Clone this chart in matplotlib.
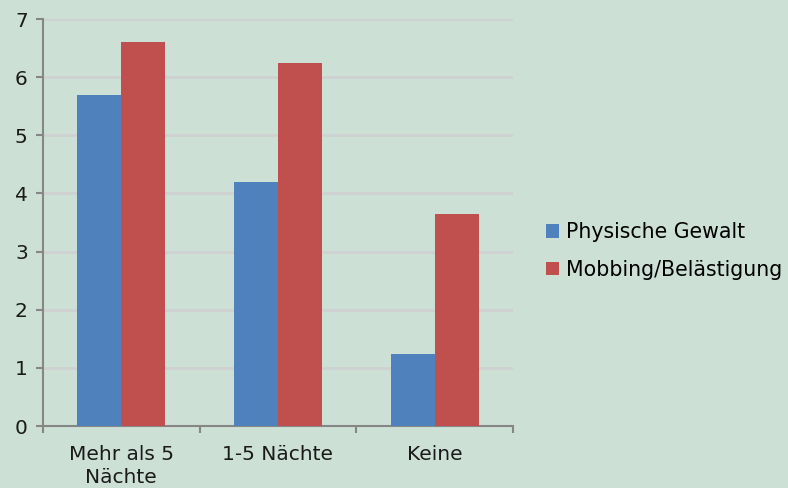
import numpy as np
import matplotlib.pyplot as plt

categories = ["Mehr als 5\nNächte", "1-5 Nächte", "Keine"]
physische_gewalt = [5.7, 4.2, 1.23]
mobbing = [6.6, 6.24, 3.65]
series_names = ["Physische Gewalt", "Mobbing/Belästigung"]

bg = "#cce0d6"
blue = "#4f81bd"
red = "#c0504d"

fig = plt.figure(figsize=(7.88, 4.88), dpi=100, facecolor=bg)
ax = fig.add_axes([43 / 788, 1 - 426 / 488, 470 / 788, 407 / 488])
ax.set_facecolor(bg)

x = np.arange(len(categories))
w = 0.28
ax.bar(x - w / 2, physische_gewalt, w, color=blue, label=series_names[0], zorder=3)
ax.bar(x + w / 2, mobbing, w, color=red, label=series_names[1], zorder=3)

ax.set_xlim(-0.5, len(categories) - 0.5)
ax.set_ylim(0, 7)
ax.set_yticks(range(0, 8))
ax.yaxis.grid(True, color="#cfd0d2", linewidth=1.8, zorder=0)

# boundary ticks on x, labels in the middle
ax.set_xticks(np.arange(-0.5, len(categories), 1.0))
ax.set_xticklabels([])
ax.set_xticks(x, minor=True)
ax.set_xticklabels(categories, minor=True, fontsize=14.5, color="#1a1a1a",
                   linespacing=1.25)
ax.tick_params(axis="x", which="minor", length=0, pad=14)
ax.tick_params(axis="x", which="major", length=5, width=1.5, color="#868686")
ax.tick_params(axis="y", length=5, width=1.5, color="#868686", labelsize=14.5,
               labelcolor="#1a1a1a", pad=6)

for s in ["top", "right"]:
    ax.spines[s].set_visible(False)
for s in ["left", "bottom"]:
    ax.spines[s].set_color("#868686")
    ax.spines[s].set_linewidth(1.5)

leg = fig.legend(loc="center left", bbox_to_anchor=(546 / 788, 1 - 251 / 488),
                 frameon=False, fontsize=14.8, handlelength=0.65, handleheight=0.65,
                 handletextpad=0.3, labelspacing=0.85, borderpad=0,
                 borderaxespad=0)

fig.savefig("out.png", dpi=100, facecolor=bg)
